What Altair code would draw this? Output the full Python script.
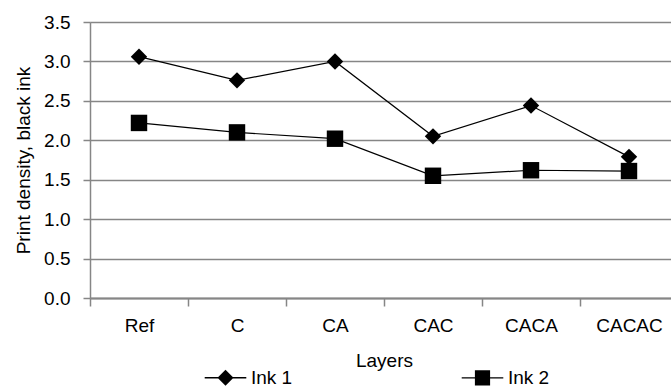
import altair as alt
import pandas as pd

layers = ["Ref", "C", "CA", "CAC", "CACA", "CACAC"]
ink1 = [3.06, 2.76, 3.00, 2.05, 2.44, 1.79]
ink2 = [2.22, 2.10, 2.02, 1.55, 1.62, 1.61]
series = ["Ink 1", "Ink 2"]
y_ticks = [0.0, 0.5, 1.0, 1.5, 2.0, 2.5, 3.0, 3.5]

df = pd.DataFrame({
    "layer": layers + layers,
    "series": [series[0]] * len(layers) + [series[1]] * len(layers),
    "value": ink1 + ink2,
})

FONT = "Liberation Sans"
GRAY = "#868686"
FS = 19

x_enc = alt.X(
    "layer:N", sort=layers, bandPosition=0.5,
    scale=alt.Scale(type="band", paddingInner=0, paddingOuter=0, range=[0, 588]),
    axis=alt.Axis(title="Layers", tickBand="extent", labelAngle=0, grid=False,
                  domainColor=GRAY, domainWidth=2, tickColor=GRAY, tickWidth=1.5,
                  tickSize=8, labelPadding=10, titlePadding=16,
                  labelFont=FONT, labelFontSize=FS, labelColor="black",
                  titleFont=FONT, titleFontSize=FS, titleFontWeight="normal",
                  titleColor="black"),
)
y_enc = alt.Y(
    "value:Q",
    scale=alt.Scale(domain=[0, 3.5], nice=False, zero=True),
    axis=alt.Axis(title="Print density, black ink", values=y_ticks, format=".1f",
                  grid=True, gridColor=GRAY, gridWidth=1.5,
                  domainColor=GRAY, domainWidth=1.5, tickColor=GRAY, tickWidth=1.5,
                  tickSize=7, labelPadding=13, titlePadding=10,
                  labelFont=FONT, labelFontSize=FS, labelColor="black",
                  titleFont=FONT, titleFontSize=FS, titleFontWeight="normal",
                  titleColor="black"),
)

base = alt.Chart(df)

lines = base.mark_line(color="black", strokeWidth=1.2).encode(
    x=x_enc, y=y_enc, detail="series:N"
)

points = base.mark_point(filled=True, color="black", size=270, opacity=1).encode(
    x=x_enc, y=y_enc,
    shape=alt.Shape("series:N", scale=alt.Scale(domain=series, range=["diamond", "square"]),
                    legend=None),
)

# legend glyphs: marker with a short line through it (lines drawn as thin filled bars)
diamond_leg = "M-2.6,-0.08H-0.9V0.08H-2.6Z M0.9,-0.08H2.6V0.08H0.9Z M0,-1L1,0L0,1L-1,0Z"
square_leg = "M-2.6,-0.08H-0.9V0.08H-2.6Z M0.9,-0.08H2.6V0.08H0.9Z M-0.95,-0.95H0.95V0.95H-0.95Z"

legend_layer = base.transform_filter("datum.value < 0").mark_point(
    filled=True, color="black", opacity=1, size=256
).encode(
    x=x_enc, y=y_enc,
    shape=alt.Shape("series:N",
                    scale=alt.Scale(domain=series, range=[diamond_leg, square_leg]),
                    legend=alt.Legend(title=None, orient="none", legendX=126, legendY=346,
                                      direction="horizontal", columns=2, columnPadding=165,
                                      symbolSize=256, symbolFillColor="black",
                                      symbolOpacity=1,
                                      labelFont=FONT, labelFontSize=FS, labelColor="black",
                                      labelOffset=16, padding=0)),
)

chart = alt.layer(lines, points, legend_layer).resolve_scale(
    shape="independent"
).properties(
    width=581, height=276,
    autosize=alt.AutoSizeParams(type="none"),
    padding={"left": 90, "top": 22, "right": 0, "bottom": 91},
).configure_view(stroke=None).configure(background="white")

chart.save("out.html", embed_options={"renderer": "svg", "actions": False})
